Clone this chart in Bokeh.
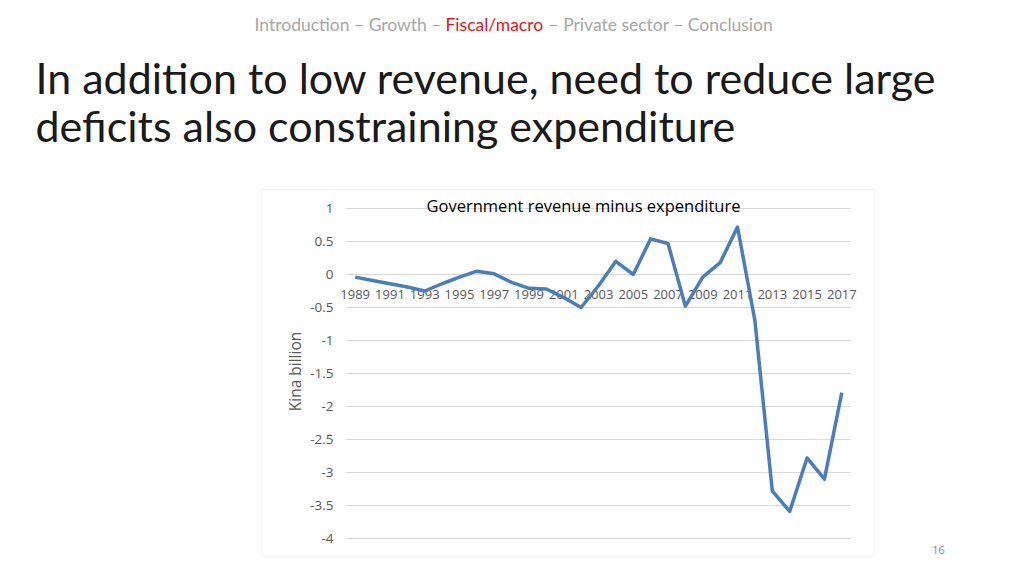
import math
from bokeh.plotting import figure
from bokeh.models import Range1d, Label, BoxAnnotation
from bokeh.core.properties import value
from bokeh.embed import file_html
from bokeh.resources import INLINE

# ---- data ----
years = list(range(1989, 2018))
balance = [-0.04, -0.09, -0.14, -0.19, -0.25, -0.14, -0.04, 0.05, 0.01, -0.12,
           -0.21, -0.22, -0.35, -0.50, -0.17, 0.20, 0.00, 0.54, 0.47, -0.48,
           -0.04, 0.18, 0.72, -0.70, -3.28, -3.59, -2.78, -3.10, -1.79]
x_tick_years = list(range(1989, 2018, 2))
x_tick_labels = [str(y) for y in x_tick_years]
y_ticks = [-4, -3.5, -3, -2.5, -2, -1.5, -1, -0.5, 0, 0.5, 1]
y_tick_labels = ["-4", "-3.5", "-3", "-2.5", "-2", "-1.5", "-1", "-0.5", "0", "0.5", "1"]

header_parts = ["Introduction \u2013 Growth \u2013", "Fiscal/macro", "\u2013 Private sector \u2013 Conclusion"]
title_lines = ["In addition to low revenue, need to reduce large",
               "deficits also constraining expenditure"]
chart_title = "Government revenue minus expenditure"
y_label = "Kina billion"
page_no = "16"

# ---- layout (page pixels) ----
W, H = 1008, 560
PL, PR = 346, 850          # plot area left/right
Y_TOP_PX, Y_BOT_PX = 208, 538   # pixel rows of y = 1 and y = -4
X0, X1 = years[0] - 0.5, years[-1] + 0.5
YMAX, YMIN = 1.0, -4.0

xs = (PR - PL) / (X1 - X0)
ys = (Y_BOT_PX - Y_TOP_PX) / (YMAX - YMIN)
yr_range = Range1d(X0 - PL / xs, X0 + (W - PL) / xs)
val_range = Range1d(YMAX - (H - Y_TOP_PX) / ys, YMAX + Y_TOP_PX / ys)

p = figure(width=W, height=H, output_backend="svg", toolbar_location=None,
           x_range=Range1d(0, W), y_range=Range1d(H, 0), min_border=0)
p.extra_x_ranges = {"yr": yr_range}
p.extra_y_ranges = {"val": val_range}
p.xaxis.visible = False
p.yaxis.visible = False
p.grid.visible = False
p.outline_line_color = None
p.background_fill_color = "white"
p.border_fill_color = "white"

R = dict(x_range_name="yr", y_range_name="val")
FONT = value("Open Sans")

# chart box
p.add_layout(BoxAnnotation(left=261, right=874, top=189, bottom=556,
                           fill_color=None, line_color="#d9d9d9", line_width=1.5))

# gridlines
p.segment(x0=[X0] * len(y_ticks), x1=[X1] * len(y_ticks), y0=y_ticks, y1=y_ticks,
          line_color="#d9d9d9", line_width=1, **R)

# y tick labels
p.text(x=[X0] * len(y_ticks), y=y_ticks, text=y_tick_labels, x_offset=-13,
       text_font=FONT, text_font_size="13.5px", text_color="#595959",
       text_align="right", text_baseline="middle", **R)

# category labels along the zero line
p.text(x=x_tick_years, y=[0] * len(x_tick_years), text=x_tick_labels, y_offset=20,
       text_font=FONT, text_font_size="13px", text_color="#595959",
       text_align="center", text_baseline="middle", **R)

# series
p.line(years, balance, line_color="#4a7ebb", line_width=3.5, line_join="round", **R)


def lab(x, y, text, size, color, font="Lato", align="left", baseline="alphabetic", angle=0.0):
    p.add_layout(Label(x=x, y=y, text=text, text_font=font, text_font_size=size,
                       text_color=color, text_align=align, text_baseline=baseline,
                       angle=angle))


lab(294, 371, y_label, "15.5px", "#595959", font="Open Sans", align="center",
    baseline="middle", angle=math.pi / 2)
lab(441, 24, header_parts[0], "17.5px", "#a6a6a6", align="right")
lab(445, 24, header_parts[1], "17.5px", "#e8141b")
lab(548, 24, header_parts[2], "17.5px", "#a6a6a6")
lab(35, 77, title_lines[0], "43px", "#1a1a1a")
lab(35, 125, title_lines[1], "43px", "#1a1a1a")
lab(583, 205, chart_title, "16.5px", "#000000", font="Open Sans", align="center", baseline="middle")
lab(938, 549, page_no, "11px", "#8c8c8c", font="Open Sans", align="center", baseline="middle")

open("out.html", "w").write(file_html(p, INLINE))
